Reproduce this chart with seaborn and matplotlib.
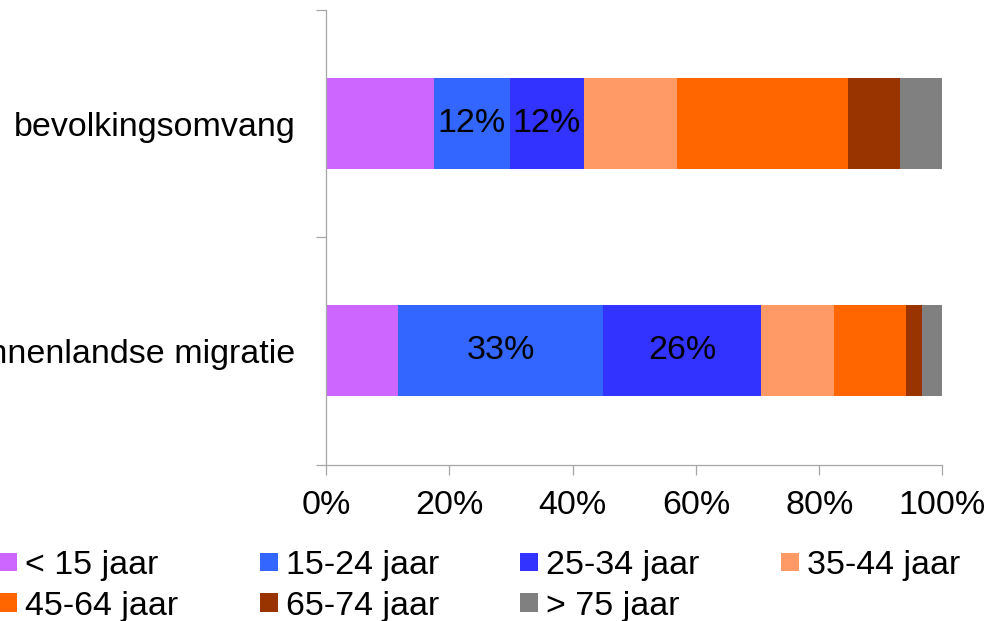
import numpy as np
import pandas as pd
import matplotlib
matplotlib.use("Agg")
import matplotlib.pyplot as plt
from matplotlib.patches import Patch
import seaborn as sns

# Data (percent of total per row)
categories = ['bevolkingsomvang', 'binnenlandse migratie']
age_groups = ['< 15 jaar', '15-24 jaar', '25-34 jaar', '35-44 jaar',
              '45-64 jaar', '65-74 jaar', '> 75 jaar']
bevolking = [17.5, 12.3, 12.0, 15.1, 27.8, 8.4, 6.9]
migratie = [11.7, 33.3, 25.5, 11.9, 11.7, 2.6, 3.3]
colors = ['#CC66FF', '#3366FF', '#3333FF', '#FF9966', '#FF6600', '#993300', '#808080']
labelled = ['15-24 jaar', '25-34 jaar']  # only these segments carry a value label

sns.set_style('white')
plt.rcParams['font.family'] = ['Liberation Sans', 'DejaVu Sans']
plt.rcParams['text.color'] = 'black'
plt.rcParams['xtick.labelcolor'] = 'black'
plt.rcParams['ytick.labelcolor'] = 'black'
fs = 24.5

df = pd.DataFrame({'bevolkingsomvang': bevolking,
                   'binnenlandse migratie': migratie}, index=age_groups)
cum = df.cumsum()

fig = plt.figure(figsize=(9.86, 6.21), dpi=100)
ax = fig.add_axes([326 / 986, 156.5 / 621, 616.5 / 986, 454.5 / 621])

# stacked bars: draw cumulative totals from the outside in
for grp, col in reversed(list(zip(age_groups, colors))):
    part = pd.DataFrame({'category': categories, 'value': cum.loc[grp, categories].values})
    sns.barplot(data=part, x='value', y='category', orient='h', color=col,
                width=0.4, linewidth=0, saturation=1, ax=ax)

# value labels in the middle of the chosen segments
for grp in labelled:
    for i, cat in enumerate(categories):
        v = df.loc[grp, cat]
        ax.text(cum.loc[grp, cat] - v / 2, i, f'{v:.0f}%', ha='center', va='center',
                fontsize=fs, color='black')

ax.set_xlim(0, 100)
ax.set_ylim(1.5, -0.5)
ax.set_xticks(np.arange(0, 101, 20))
ax.set_xticklabels([f'{t}%' for t in range(0, 101, 20)])
ax.set_yticks([-0.5, 0.5, 1.5])
ax.set_yticklabels([])
ax.set_yticks([0, 1], minor=True)
ax.set_yticklabels(categories, minor=True)
ax.set_xlabel('')
ax.set_ylabel('')

spine_col = '#A6A6A6'
for side in ['top', 'right']:
    ax.spines[side].set_visible(False)
for side in ['left', 'bottom']:
    ax.spines[side].set_color(spine_col)
    ax.spines[side].set_linewidth(0.9)
ax.tick_params(axis='both', which='major', length=7.5, width=0.9, color=spine_col,
               direction='out', labelsize=fs, labelcolor='black')
ax.tick_params(axis='x', which='major', bottom=True, pad=11)
ax.tick_params(axis='y', which='major', left=True)
ax.tick_params(axis='y', which='minor', length=0, pad=22, labelsize=fs, labelcolor='black')

# legend filled row by row like the original
order = [0, 4, 1, 5, 2, 6, 3]
handles = [Patch(facecolor=colors[i], edgecolor='none', label=age_groups[i]) for i in order]
fig.legend(handles=handles, loc='upper left', bbox_to_anchor=(-1 / 986, 1 - 550 / 621),
           ncol=4, frameon=False, fontsize=fs, borderpad=0, borderaxespad=0,
           handlelength=0.53, handleheight=0.45, handletextpad=0.23,
           columnspacing=2.4, labelspacing=0.28)

fig.savefig('out.png', dpi=100)
